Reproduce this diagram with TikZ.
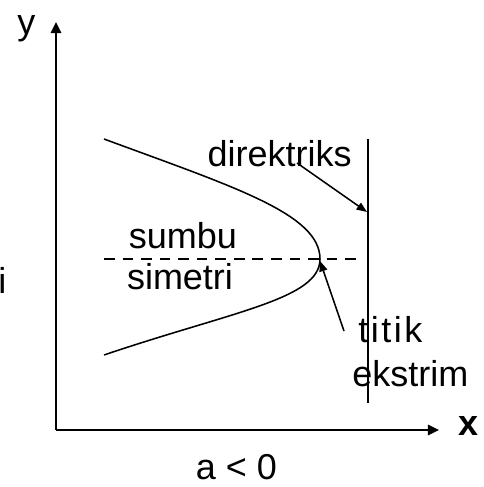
\documentclass[tikz,border=0pt]{standalone}
\usepackage{fontspec}
\setmainfont{Liberation Sans}
\usetikzlibrary{arrows.meta}

\begin{document}
\begin{tikzpicture}[>={Triangle[length=2.8mm,width=2.6mm]},line cap=butt,
  font=\fontsize{25.6}{30}\selectfont,
  lbl/.style={inner sep=0pt,anchor=base},
  pointer/.style={-{Triangle[length=2.6mm,width=2mm]},line width=1.1pt}]
\useasboundingbox (0,0) rectangle (12.1,12.175);
% axes
\coordinate (O) at (1.4,1.425);
\coordinate (ytip) at (1.4,11.625);
\coordinate (xtip) at (10.975,1.425);
\draw[->,line width=1.4pt] (O) -- (ytip);
\draw[->,line width=1.4pt] (O) -- (xtip);
\node[lbl] (ylab) at (0.66,11.3) {y};
\node[lbl,font=\fontsize{25.6}{30}\selectfont\bfseries] (xlab) at (11.71,1.275) {x};
% parabola, a < 0
\coordinate (P1) at (2.6,8.7);
\coordinate (V) at (8.0,5.7);
\coordinate (P2) at (2.6,3.3);
\draw[line width=1.1pt] (P1) .. controls (5.85,7.5) and (8.0,6.825) .. (V)
  .. controls (8.0,4.7) and (5.85,4.4) .. (P2);
% sumbu simetri
\coordinate (S1) at (2.6,5.7);
\coordinate (S2) at (9.05,5.7);
\draw[line width=1.1pt,dash pattern=on 7.6pt off 5.6pt] (S1) -- (S2);
% direktriks
\coordinate (D1) at (9.2,8.7);
\coordinate (D2) at (9.2,2.1);
\draw[line width=1.4pt] (D1) -- (D2);
\coordinate (Dhit) at (9.175,6.875);
% labels
\node[lbl] (dirlab) at (6.99,8.0) {direktriks};
\coordinate (dirfrom) at (7.425,8.1);
\draw[pointer] (dirfrom) -- (Dhit);
\node[lbl] (sumbu) at (4.575,5.95) {sumbu};
\node[lbl] (simetri) at (4.5,4.925) {simetri};
\node[lbl,anchor=base west] (titik) at (8.95,3.6) {\addfontfeatures{LetterSpace=7}titik};
\node[lbl,anchor=base west] (ekstrim) at (8.8,2.5) {ekstrim};
\coordinate (tfrom) at (8.6,3.9);
\coordinate (Vhit) at (8.0,5.65);
\draw[pointer] (tfrom) -- (Vhit);
\node[lbl,anchor=base west] (stray) at (-0.05,4.825) {i};
\node[lbl] (cond) at (5.91,0.18) {a < 0};
\end{tikzpicture}
\end{document}
